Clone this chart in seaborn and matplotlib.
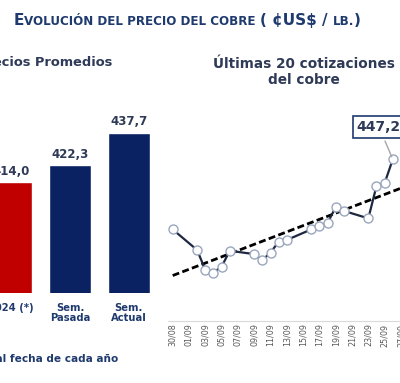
import pandas as pd
import matplotlib
matplotlib.use("Agg")
import matplotlib.pyplot as plt
import seaborn as sns

# Bar panel: average prices (cents US$/lb)
bar_labels = ["2024 (*)", "Sem.\nPasada", "Sem.\nActual"]
bar_values = [414.0, 422.3, 437.7]
bar_colors = ["#C00000", "#0B2262", "#0B2262"]

# Line panel: last 20 quotes
quote_dates = ["30/08", "02/09", "03/09", "04/09", "05/09", "06/09",
               "09/09", "10/09", "11/09", "12/09", "13/09",
               "16/09", "17/09", "18/09", "19/09", "20/09",
               "23/09", "24/09", "25/09", "26/09"]
quote_values = [418.0, 409.4, 401.1, 400.0, 402.5, 409.1,
                407.7, 405.2, 408.3, 412.9, 413.6,
                418.0, 419.4, 420.7, 427.3, 425.7,
                422.6, 436.1, 437.3, 447.2]
tick_labels = ["30/08", "01/09", "03/09", "05/09", "07/09", "09/09", "11/09",
               "13/09", "15/09", "17/09", "19/09", "21/09", "23/09", "25/09",
               "27/09", "29/09"]

NAVY = "#1F3A6E"
TEXT = "#2E3A57"

sns.set_style("white")
plt.rcParams["font.family"] = ["DejaVu Sans"]

fig = plt.figure(figsize=(4.0, 3.83), dpi=100)

# --- title in small caps, built piece by piece
def small_caps(fig, x, y, parts):
    renderer = fig.canvas.get_renderer()
    for txt, size in parts:
        t = fig.text(x, y, txt, fontsize=size, fontweight="bold", color=NAVY,
                     ha="left", va="baseline")
        bb = t.get_window_extent(renderer=renderer)
        x += bb.width / fig.bbox.width

small_caps(fig, 14 / 400, 1 - 25 / 383, [
    ("E", 11), ("VOLUCIÓN DEL PRECIO DEL COBRE ", 8.6),
    ("( ¢US$ / ", 11), ("LB.", 8.6), (")", 11)])

# --- bar panel
ax1 = fig.add_axes([-0.0455, 0.2342, 0.441, 0.5308])
df_bars = pd.DataFrame({"cat": bar_labels, "val": bar_values})
sns.barplot(data=df_bars, x="cat", y="val", hue="cat", palette=bar_colors,
            width=0.72, legend=False, ax=ax1, saturation=1)
ax1.set_ylim(361, 458)
ax1.set_xlim(-0.5, 2.5)
for c in ax1.containers:
    ax1.bar_label(c, labels=[f"{v:.1f}".replace(".", ",") for v in c.datavalues],
                  padding=3, fontsize=8.5, fontweight="bold", color=TEXT)
ax1.set_xlabel("")
ax1.set_ylabel("")
ax1.set_yticks([])
ax1.tick_params(axis="x", length=0, pad=7)
for lab in ax1.get_xticklabels():
    lab.set_fontsize(7.2)
    lab.set_fontweight("bold")
    lab.set_color(NAVY)
    lab.set_linespacing(1.05)
sns.despine(ax=ax1, left=True, bottom=True)
fig.text(112 / 400, 1 - 63 / 383, "Precios Promedios", fontsize=9.4,
         fontweight="bold", color=TEXT, ha="right", va="center")
fig.text(118 / 400, 1 - 359 / 383, "(*) Promedio anual a igual fecha de cada año",
         fontsize=7.6, fontweight="bold", color=NAVY, ha="right", va="center")

# --- line panel
ax2 = fig.add_axes([0.4195, 0.1629, 0.644, 0.564])
dates = pd.to_datetime([d + "/2024" for d in quote_dates], format="%d/%m/%Y")
days = (dates - dates[0]).days
df_line = pd.DataFrame({"day": days, "val": quote_values})
ax2.set_xlim(0, 31)
sns.regplot(data=df_line, x="day", y="val", scatter=False, ci=None,
            truncate=False, ax=ax2,
            line_kws=dict(color="black", lw=2, ls=(0, (2.5, 1.2))))
sns.lineplot(data=df_line, x="day", y="val", ax=ax2, color="#1E2740", lw=1.6,
             marker="o", markersize=6.5, markerfacecolor="white",
             markeredgecolor="#9AA6BD", markeredgewidth=1)
ax2.set_xlim(-0.6, 31)
ax2.set_ylim(380, 470)
ax2.set_xticks(range(0, 2 * len(tick_labels), 2))
ax2.set_xticklabels(tick_labels, rotation=90, fontsize=5.8, color="#595959")
ax2.tick_params(axis="x", length=0, pad=2)
ax2.set_yticks([])
ax2.set_xlabel("")
ax2.set_ylabel("")
for s in ["left", "top", "right"]:
    ax2.spines[s].set_visible(False)
ax2.spines["bottom"].set_color("#D9D9D9")
ax2.spines["bottom"].set_linewidth(0.8)

last = len(quote_values) - 1
ax2.annotate(f"{quote_values[last]:.1f}".replace(".", ","),
             xy=(days[last], quote_values[last]), xytext=(25.3, 460.8),
             textcoords="data", ha="center", va="center", fontsize=10,
             fontweight="bold", color=TEXT,
             bbox=dict(boxstyle="square,pad=0.3", fc="white", ec=NAVY, lw=1.2),
             arrowprops=dict(arrowstyle="-", color="#A6A6A6", lw=1))

fig.text(303.5 / 400, 1 - 72 / 383, "Últimas 20 cotizaciones\ndel cobre",
         fontsize=9.8, fontweight="bold", color=TEXT, ha="center", va="center",
         linespacing=1.1)

fig.savefig("out.png", dpi=100)
